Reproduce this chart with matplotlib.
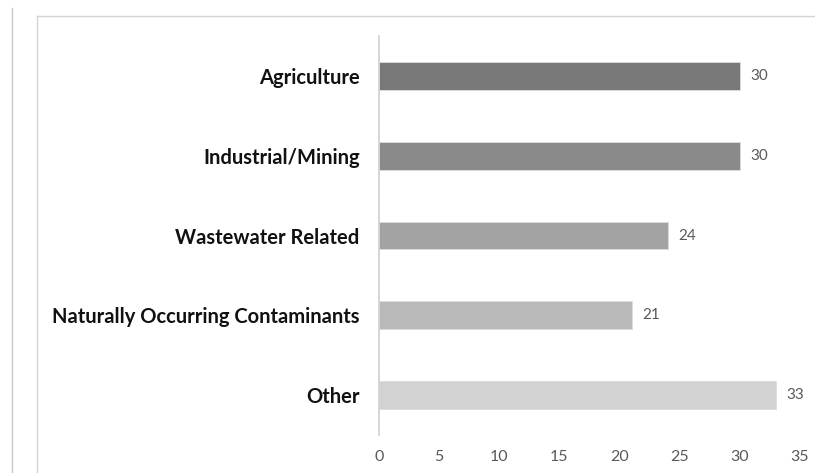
import matplotlib.pyplot as plt
from matplotlib.lines import Line2D

categories = ["Agriculture", "Industrial/Mining", "Wastewater Related",
              "Naturally Occurring Contaminants", "Other"]
counts = [30, 30, 24, 21, 33]
bar_colors = ["#787878", "#8a8a8a", "#a3a3a3", "#b9b9b9", "#d2d2d2"]
xticks = [0, 5, 10, 15, 20, 25, 30, 35]

plt.rcParams['font.family'] = ['Lato', 'DejaVu Sans']

fig = plt.figure(figsize=(8.15, 4.73), dpi=100)
ax = fig.add_axes([0.465, 0.0803, 0.5166, 0.8436])

y = list(range(len(categories)))
ax.barh(y, counts, height=0.35, color=bar_colors, edgecolor="#dddddd", linewidth=0.6)

for yi, v in zip(y, counts):
    ax.text(v + 0.9, yi, str(v), va="center", ha="left", fontsize=11, color="#595959")

ax.set_xlim(0, 35)
ax.set_ylim(4.5, -0.5)
ax.set_yticks(y)
ax.set_yticklabels(categories, fontsize=14.5, fontweight="bold", color="#111111")
ax.set_xticks(xticks)
ax.set_xticklabels([str(t) for t in xticks], fontsize=11.5, color="#595959")
ax.tick_params(axis="y", length=0, pad=14)
ax.tick_params(axis="x", length=0, pad=11)

for side in ["top", "right", "bottom"]:
    ax.spines[side].set_visible(False)
ax.spines["left"].set_color("#d0d0d0")
ax.spines["left"].set_linewidth(1.2)

# outer page/frame lines
W, H = 815, 473
fig.add_artist(Line2D([12 / W, 12 / W], [0, 1 - 8 / H], color="#c8c8c8", lw=1.0))
fig.add_artist(Line2D([37 / W, 37 / W], [0, 1 - 16 / H], color="#d4d4d4", lw=1.0))
fig.add_artist(Line2D([37 / W, 1], [1 - 16 / H, 1 - 16 / H], color="#d4d4d4", lw=1.0))

fig.savefig("out.png", dpi=100)
